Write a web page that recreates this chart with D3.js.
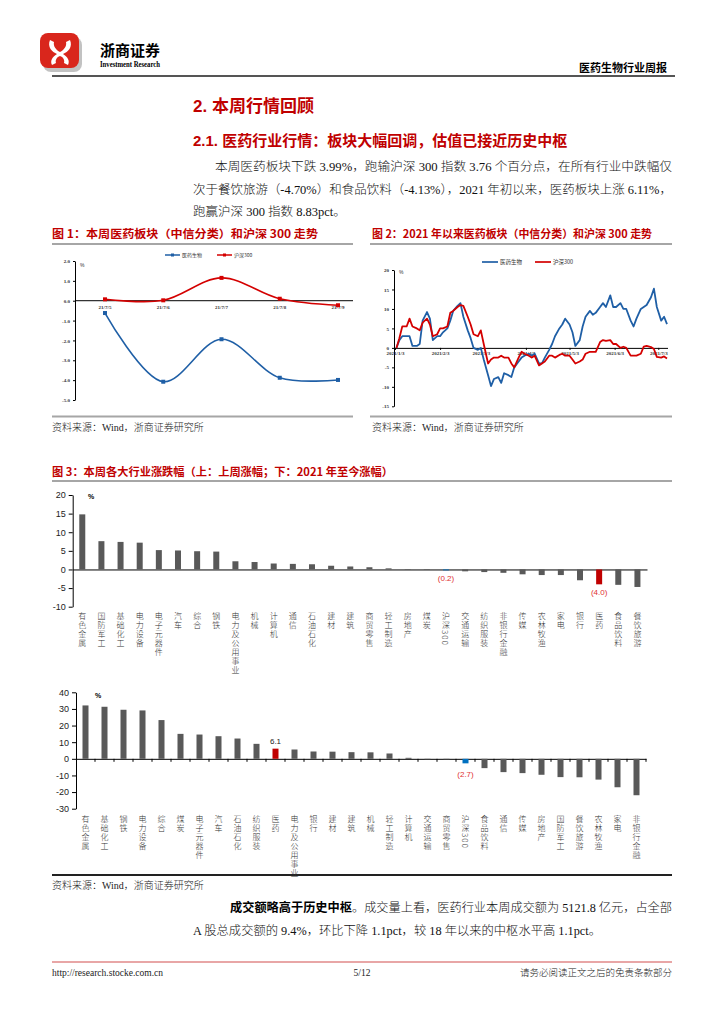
<!DOCTYPE html>
<html><head><meta charset="utf-8">
<script src="https://cdn.jsdelivr.net/npm/d3@7"></script>
<style>body{margin:0;background:#fff}svg{display:block}</style>
</head><body>
<svg id="c" width="724" height="1024"></svg>
<script>
// ---------- DATA ----------
const fig1Dates = ["21/7/5","21/7/6","21/7/7","21/7/8","21/7/9"];
const fig1Pharma = [-0.62,-4.08,-1.94,-3.88,-3.99];
const fig1HS300 = [0.07,0.02,1.15,0.10,-0.23];
const fig1YTicks = [2,1,0,-1,-2,-3,-4,-5];

const fig2Dates = ["2021-01-04","2021-01-06","2021-01-08","2021-01-11","2021-01-13","2021-01-15","2021-01-18","2021-01-20","2021-01-22","2021-01-25","2021-01-27","2021-01-29",
"2021-02-01","2021-02-03","2021-02-05","2021-02-08","2021-02-10","2021-02-12","2021-02-15","2021-02-17","2021-02-19","2021-02-22","2021-02-24","2021-02-26",
"2021-03-01","2021-03-03","2021-03-05","2021-03-08","2021-03-10","2021-03-12","2021-03-15","2021-03-17","2021-03-19","2021-03-22","2021-03-24","2021-03-26","2021-03-29","2021-03-31",
"2021-04-02","2021-04-05","2021-04-07","2021-04-09","2021-04-12","2021-04-14","2021-04-16","2021-04-19","2021-04-21","2021-04-23","2021-04-26","2021-04-28","2021-04-30",
"2021-05-03","2021-05-05","2021-05-07","2021-05-10","2021-05-12","2021-05-14","2021-05-17","2021-05-19","2021-05-21","2021-05-24","2021-05-26","2021-05-28","2021-05-31",
"2021-06-02","2021-06-04","2021-06-07","2021-06-09","2021-06-11","2021-06-14","2021-06-16","2021-06-18","2021-06-21","2021-06-23","2021-06-25","2021-06-28","2021-06-30",
"2021-07-02","2021-07-05","2021-07-07","2021-07-09"];
const fig2Pharma = [0,2,3,3,3,0.5,0.5,1,7,9.2,7.5,2,
3,3,4,5,7,9.5,10.8,11.5,8,4.5,2.5,0,
-0.5,0,-3,-7,-9.8,-8,-7.5,-9,-6.5,-7,-7.5,-5,-3.5,-2.5,
-2,-1.5,-2,-1.5,-4,-4,-2.5,-0.5,1,3,5,6,7.5,
6,4,0.5,2,5.5,8,9.5,8.5,9,10.5,11.5,10.5,13.5,
10.5,10.5,11.5,10,10,7,5.5,7.5,10,10.5,11,13,15.2,
10.5,7,8,6.11];
const fig2HS300 = [0,2.5,5.5,5.5,7.5,5.5,5,4.5,6.5,7.5,6,3,
3.5,5,5,5.5,9,9.5,10.5,11,10.8,8,6,3.5,
3,4.5,1,-4,-3,-2.5,-2.5,-2,-2.5,-2.5,-4,-5,-2.5,-1,
-1.5,-2,-2.5,-2,-4.5,-4,-3.5,-2,-2,-2.5,-1.8,-1.5,-2,
-2,-3,-4,-3.5,-3,-1.5,-1,-1,-1,1.5,2,1.8,2,
1,1,0,0.3,0,-2,-2,-2,-1.5,0.3,0.5,0.2,-0.3,
-2.3,-2.5,-2.2,-2.72];
const fig2XTicks = ["2021-01-03","2021-02-03","2021-03-03","2021-04-03","2021-05-03","2021-06-03","2021-07-03"];
const fig2YTicks = [20,15,10,5,0,-5,-10,-15];

const weekCats = ["有色金属","国防军工","基础化工","电力设备","电子元器件","汽车","综合","钢铁","电力及公用事业","机械","计算机","通信","石油石化","建材","建筑","商贸零售","轻工制造","房地产","煤炭","沪深300","交通运输","纺织服装","非银行金融","传媒","农林牧渔","家电","银行","医药","食品饮料","餐饮旅游"];
const weekVals = [14.8,7.6,7.4,7.2,5.2,5.1,4.9,4.8,2.2,2.0,1.6,1.5,1.4,1.0,0.8,0.6,0.3,0.1,-0.05,-0.23,-0.5,-0.7,-0.9,-1.3,-1.5,-1.5,-2.9,-3.99,-4.13,-4.70];
const weekYTicks = [20,15,10,5,0,-5,-10];

const ytdCats = ["有色金属","基础化工","钢铁","电力设备","综合","煤炭","电子元器件","汽车","石油石化","纺织服装","医药","电力及公用事业","银行","建材","建筑","机械","轻工制造","计算机","交通运输","商贸零售","沪深300","食品饮料","通信","传媒","房地产","国防军工","餐饮旅游","农林牧渔","家电","非银行金融"];
const ytdVals = [32.1,31.3,29.5,29.1,23.3,15.0,14.6,13.6,12.2,9.0,6.11,5.6,4.4,4.3,4.0,3.9,3.2,0.6,-0.1,-0.2,-2.72,-5.6,-8.0,-8.6,-9.6,-11.0,-11.1,-12.5,-17.1,-21.9];
const ytdYTicks = [40,30,20,10,0,-10,-20,-30];

// ---------- SETUP ----------
const svg = d3.select("#c");
const CJK = "'Noto Sans CJK SC', sans-serif";
const SERIF = "'Liberation Serif','Noto Sans CJK SC',serif";
const SANS = "'Liberation Sans','Noto Sans CJK SC',sans-serif";
const RED = "#c00000";
const BLUE = "#1f5fa6";
const LRED = "#d40000";

function hline(x1,x2,y,color,w){svg.append("line").attr("x1",x1).attr("x2",x2).attr("y1",y).attr("y2",y).attr("stroke",color).attr("stroke-width",w);}
function txt(x,y,s,opt){
  const t=svg.append("text").attr("x",x).attr("y",y).text(s)
    .attr("font-family",opt.ff||CJK).attr("font-size",opt.fs||12)
    .attr("fill",opt.fill||"#000").attr("font-weight",opt.fw||"normal");
  if(opt.anchor) t.attr("text-anchor",opt.anchor);
  if(opt.len) t.attr("textLength",opt.len).attr("lengthAdjust","spacingAndGlyphs");
  return t;
}

// ---------- HEADER ----------
const logo = svg.append("g");
logo.append("rect").attr("x",43).attr("y",37).attr("width",39).attr("height",35).attr("rx",8).attr("fill","#9a9a9a").attr("opacity",0.6);
logo.append("rect").attr("x",40).attr("y",33).attr("width",39).attr("height",35).attr("rx",8).attr("fill","#d9261c");
logo.append("path").attr("d","M50,40 C47,47 52,52 57,54 C52,57 50,61 52,65 L56,63 C55,60 57,57 60,56 C63,57 65,60 64,63 L68,65 C70,61 68,57 63,54 C68,52 73,47 70,40 L66,42 C67,46 64,50 60,52 C56,50 53,46 54,42 Z").attr("fill","#fff");
txt(100,56,"浙商证券",{fs:15,fw:"bold",ff:CJK});
txt(100,67,"Investment Research",{fs:8,ff:"'Liberation Serif',serif",fw:"bold",len:60});
txt(667,72,"医药生物行业周报",{fs:11,fw:"bold",anchor:"end"});
hline(52,675,76,"#555",2);

// ---------- SECTION TEXT ----------
txt(193,112,"2. 本周行情回顾",{fs:17,fw:"bold",fill:RED,ff:SANS});
txt(193,146,"2.1. 医药行业行情：板块大幅回调，估值已接近历史中枢",{fs:15,fw:"bold",fill:RED,ff:SANS});
txt(215,171,"本周医药板块下跌 3.99%，跑输沪深 300 指数 3.76 个百分点，在所有行业中跌幅仅",{fs:12.5,ff:SERIF,fill:"#111",fw:300,len:457});
txt(193,194,"次于餐饮旅游（-4.70%）和食品饮料（-4.13%），2021 年初以来，医药板块上涨 6.11%，",{fs:12.5,ff:SERIF,fill:"#111",fw:300,len:479});
txt(193,216,"跑赢沪深 300 指数 8.83pct。",{fs:12.5,ff:SERIF,fill:"#111",fw:300});

// ---------- FIGURE TITLES ----------
txt(52,238,"图 1：本周医药板块（中信分类）和沪深 300 走势",{fs:11,fw:"bold",fill:RED,len:266});
txt(372,238,"图 2：2021 年以来医药板块（中信分类）和沪深 300 走势",{fs:11,fw:"bold",fill:RED,len:280});
hline(52,353,244,"#a6a6a6",2);
hline(370,672,244,"#a6a6a6",2);
hline(52,353,416.5,"#a6a6a6",2);
hline(370,672,416.5,"#a6a6a6",2);
txt(52,431,"资料来源：Wind，浙商证券研究所",{fs:10,ff:SERIF,fill:"#222",fw:300});
txt(372,431,"资料来源：Wind，浙商证券研究所",{fs:10,ff:SERIF,fill:"#222",fw:300});

// ---------- FIGURE 1 ----------
{
  const g = svg.append("g");
  const x = d3.scalePoint().domain(fig1Dates).range([105,338]);
  const y = d3.scaleLinear().domain([-5,2]).range([400,261]);
  const ya = g.append("g").attr("transform","translate(75,0)")
    .call(d3.axisLeft(y).tickValues(fig1YTicks).tickFormat(d=>d.toFixed(1)).tickSize(2).tickSizeOuter(0));
  ya.attr("font-size",5).attr("font-family",SERIF).attr("font-weight","bold");
  ya.selectAll("text").attr("fill","#333");
  g.append("line").attr("x1",75).attr("x2",353).attr("y1",y(0)).attr("y2",y(0)).attr("stroke","#000").attr("stroke-width",1);
  g.selectAll(".xl").data(fig1Dates).join("text").attr("x",d=>x(d)).attr("y",y(0)+8).attr("text-anchor","middle")
    .attr("font-size",5).attr("font-family",SERIF).attr("font-weight","bold").attr("fill","#333").text(d=>d);
  g.append("text").attr("x",80).attr("y",267).attr("font-size",5).attr("font-family",SANS).attr("fill","#333").text("%");
  const line = d3.line().x((d,i)=>x(fig1Dates[i])).y(d=>y(d)).curve(d3.curveCatmullRom.alpha(0.5));
  [[fig1HS300,LRED],[fig1Pharma,BLUE]].forEach(([vals,col])=>{
    g.append("path").attr("d",line(vals)).attr("fill","none").attr("stroke",col).attr("stroke-width",1.6);
    g.selectAll(null).data(vals).join("rect").attr("x",(d,i)=>x(fig1Dates[i])-2).attr("y",d=>y(d)-2)
      .attr("width",4).attr("height",4).attr("fill",col);
  });
  const lg=[["医药生物",BLUE,165],["沪深300",LRED,217]];
  lg.forEach(([n,c,lx])=>{
    g.append("line").attr("x1",lx).attr("x2",lx+15).attr("y1",255).attr("y2",255).attr("stroke",c).attr("stroke-width",1.5);
    g.append("rect").attr("x",lx+6).attr("y",253.5).attr("width",3).attr("height",3).attr("fill",c);
    g.append("text").attr("x",lx+17).attr("y",257).attr("font-size",5).attr("font-family",CJK).attr("fill","#333").text(n);
  });
}

// ---------- FIGURE 2 ----------
{
  const g = svg.append("g");
  const pd = d3.timeParse("%Y-%m-%d");
  const x = d3.scaleTime().domain([pd("2021-01-03"),pd("2021-07-09")]).range([395,667]);
  const y = d3.scaleLinear().domain([-15,20]).range([406.3,270]);
  const ya = g.append("g").attr("transform","translate(394,0)")
    .call(d3.axisLeft(y).tickValues(fig2YTicks).tickFormat(d=>String(d)).tickSize(2).tickSizeOuter(0));
  ya.attr("font-size",5).attr("font-family",SERIF).attr("font-weight","bold");
  ya.selectAll("text").attr("fill","#333");
  const xa = g.append("g").attr("transform",`translate(0,${y(0)})`)
    .call(d3.axisBottom(x).tickValues(fig2XTicks.map(pd)).tickFormat(d3.timeFormat("%Y/%-m/%-d")).tickSize(2).tickSizeOuter(0));
  xa.select(".domain").attr("d","M394,0.5H668");
  xa.attr("font-size",5).attr("font-family",SERIF).attr("font-weight","bold");
  xa.selectAll("text").attr("fill","#333").attr("dy","0.45em");
  g.append("text").attr("x",399).attr("y",274).attr("font-size",5).attr("font-family",SANS).attr("fill","#333").text("%");
  const line = d3.line().x((d,i)=>x(pd(fig2Dates[i]))).y(d=>y(d));
  g.append("path").attr("d",line(fig2Pharma)).attr("fill","none").attr("stroke",BLUE).attr("stroke-width",1.8).attr("stroke-linejoin","round");
  g.append("path").attr("d",line(fig2HS300)).attr("fill","none").attr("stroke",LRED).attr("stroke-width",1.8).attr("stroke-linejoin","round");
  const lg=[["医药生物",BLUE,482],["沪深300",LRED,535]];
  lg.forEach(([n,c,lx])=>{
    g.append("line").attr("x1",lx).attr("x2",lx+16).attr("y1",262).attr("y2",262).attr("stroke",c).attr("stroke-width",1.7);
    g.append("text").attr("x",lx+18).attr("y",264).attr("font-size",5.5).attr("font-family",CJK).attr("fill","#333").text(n);
  });
}

// ---------- FIGURE 3 ----------
txt(52,476,"图 3：本周各大行业涨跌幅（上：上周涨幅；下：2021 年至今涨幅）",{fs:11,fw:"bold",fill:RED,len:341});
hline(52,672,481,"#a6a6a6",2);
hline(52,672,875,"#222",2);
txt(52,889,"资料来源：Wind，浙商证券研究所",{fs:10,ff:SERIF,fill:"#222",fw:300});

function barChart(cats, vals, x0, x1, yDom, yRange, ticks, labelY, opts){
  const g = svg.append("g");
  const x = d3.scaleBand().domain(cats).range([x0,x1]);
  const y = d3.scaleLinear().domain(yDom).range(yRange);
  const ya = g.append("g").attr("transform",`translate(${x0},0)`)
    .call(d3.axisLeft(y).tickValues(ticks).tickFormat(d=>String(d)).tickSize(4).tickSizeOuter(0));
  ya.attr("font-size",9).attr("font-family",SANS);
  ya.selectAll("text").attr("fill","#222");
  g.append("g").attr("transform",`translate(0,${y(0)})`)
    .call(d3.axisBottom(x).tickValues([]).tickSizeOuter(0));
  if(opts.ticks){
    g.selectAll(null).data(cats).join("line")
      .attr("x1",d=>x(d)+x.bandwidth()).attr("x2",d=>x(d)+x.bandwidth())
      .attr("y1",y(0)).attr("y2",y(0)+3).attr("stroke","#000");
  }
  g.selectAll(".bar").data(vals).join("rect")
    .attr("x",(d,i)=>x(cats[i])+x.bandwidth()/2-3)
    .attr("y",d=>Math.min(y(d),y(0)))
    .attr("width",6)
    .attr("height",d=>Math.max(0.5,Math.abs(y(d)-y(0))))
    .attr("fill",(d,i)=>cats[i]==="医药"?"#c00000":(cats[i]==="沪深300"?"#0070c0":"#595959"));
  g.selectAll(".lab").data(cats).join("text")
    .attr("x",d=>x(d)+x.bandwidth()/2).attr("y",labelY)
    .style("writing-mode","vertical-rl").style("text-orientation","mixed")
    .attr("font-size",8).attr("letter-spacing",1).attr("font-family",CJK).attr("fill","#333").attr("font-weight",300)
    .text(d=>d);
  g.append("text").attr("x",opts.pctX).attr("y",opts.pctY).attr("font-size",7).attr("font-weight","bold").attr("font-family",SANS).text("%");
  opts.notes.forEach(n=>{
    const i=cats.indexOf(n.cat);
    g.append("text").attr("x",x(n.cat)+x.bandwidth()/2).attr("y",y(vals[i])+n.dy)
      .attr("text-anchor","middle").attr("font-size",8).attr("font-family",SANS).attr("fill",n.fill).text(n.text);
  });
  return g;
}

barChart(weekCats, weekVals, 72.7, 647, [-10,20], [606.7,495], weekYTicks, 612,
  {ticks:false, pctX:88, pctY:499, notes:[
    {cat:"沪深300", text:"(0.2)", dy:11, fill:"#e03030"},
    {cat:"医药", text:"(4.0)", dy:11, fill:"#e03030"}]});

barChart(ytdCats, ytdVals, 76, 646, [-30,40], [808.7,692.3], ytdYTicks, 815,
  {ticks:true, pctX:95, pctY:698, notes:[
    {cat:"医药", text:"6.1", dy:-5, fill:"#222"},
    {cat:"沪深300", text:"(2.7)", dy:14, fill:"#e03030"}]});

// ---------- BOTTOM PARAGRAPH ----------
{
  const t = svg.append("text").attr("x",230).attr("y",912).attr("font-family",SERIF).attr("font-size",12.5).attr("fill","#111")
    .attr("textLength",442).attr("lengthAdjust","spacingAndGlyphs");
  t.append("tspan").attr("font-weight","bold").attr("fill","#000").text("成交额略高于历史中枢");
  t.append("tspan").attr("font-weight",300).text("。成交量上看，医药行业本周成交额为 5121.8 亿元，占全部");
  txt(193,935,"A 股总成交额的 9.4%，环比下降 1.1pct，较 18 年以来的中枢水平高 1.1pct。",{fs:12.5,ff:SERIF,fill:"#111",fw:300,len:408});
}

// ---------- FOOTER ----------
hline(52,672,962,"#e8a6a6",2);
txt(52,976,"http://research.stocke.com.cn",{fs:9.5,ff:SERIF,fill:"#222"});
txt(362,976,"5/12",{fs:9.5,ff:SERIF,fill:"#222",anchor:"middle"});
txt(672,976,"请务必阅读正文之后的免责条款部分",{fs:9.5,ff:CJK,fill:"#222",anchor:"end",fw:300});
</script>
</body></html>
